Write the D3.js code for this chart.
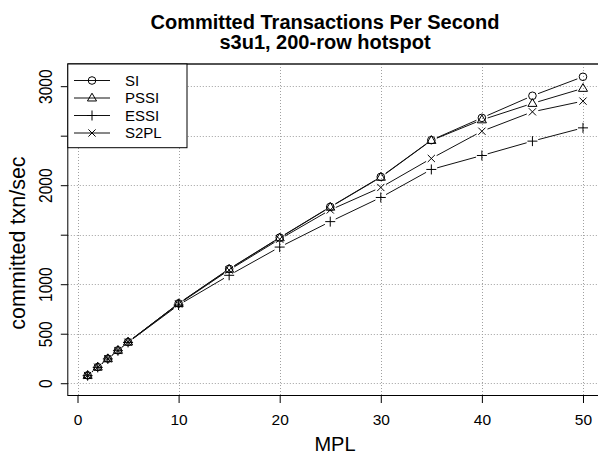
<!DOCTYPE html>
<html><head><meta charset="utf-8">
<script src="https://cdn.jsdelivr.net/npm/d3@7"></script>
<style>body{margin:0;background:#fff}svg{display:block}text{font-family:"Liberation Sans",Arial,Helvetica,sans-serif}</style>
</head><body>
<svg id="c" width="598" height="458"></svg>
<script>
const mpl = [1,2,3,4,5,10,15,20,25,30,35,40,45,50];
const si   = [79,163,248,332,416,806,1155,1471,1781,2084,2455,2680,2903,3095];
const pssi = [79,163,248,332,416,804,1151,1468,1778,2080,2452,2660,2826,2978];
const essi = [76,160,245,328,412,790,1090,1375,1632,1876,2159,2300,2445,2579];
const s2pl = [78,162,247,330,414,800,1143,1455,1750,1977,2270,2545,2741,2849];
const seriesNames = ["SI","PSSI","ESSI","S2PL"];
const seriesShapes = ["circle","triangle","plus","cross"];
const xTicks = [0,10,20,30,40,50];
const yTicks = [0,500,1000,1500,2000,2500,3000];
const yTickLabels = ["0","500","1000","","2000","","3000"];
const title1 = "Committed Transactions Per Second";
const title2 = "s3u1, 200-row hotspot";
const xTitle = "MPL";
const yTitle = "committed txn/sec";

const svg = d3.select("#c");
const L = 67.8, R = 602.8, T = 64, B = 395.5;
const x = d3.scaleLinear().domain([-0.96, 51.96]).range([L, R]);
const y = d3.scaleLinear().domain([-124, 3224]).range([B, T]);

// grid
const g = svg.append("g");
g.selectAll(".gx").data(xTicks).enter().append("line")
  .attr("x1", d => Math.round(x(d))+0.5).attr("x2", d => Math.round(x(d))+0.5)
  .attr("y1", T).attr("y2", B)
  .attr("stroke", "#a0a0a0").attr("stroke-dasharray", "1,2");
g.selectAll(".gy").data(yTicks).enter().append("line")
  .attr("y1", d => Math.round(y(d))+0.5).attr("y2", d => Math.round(y(d))+0.5)
  .attr("x1", L).attr("x2", R)
  .attr("stroke", "#a0a0a0").attr("stroke-dasharray", "1,2");

// axes
const xAxis = d3.axisBottom(x).tickValues(xTicks).tickSize(7.5).tickPadding(11).tickFormat(d3.format("d"));
const xg = svg.append("g").attr("transform", `translate(0,${B})`).call(xAxis);
xg.select(".domain").remove();
xg.selectAll("text").attr("font-size", 15.5).attr("fill", "#000");
xg.selectAll("line").attr("stroke", "#000");

const yAxis = d3.axisLeft(y).tickValues(yTicks).tickSize(7).tickFormat((d,i) => yTickLabels[i]);
const yg = svg.append("g").attr("transform", `translate(${L},0)`).call(yAxis);
yg.select(".domain").remove();
yg.selectAll("line").attr("stroke", "#000");
yg.selectAll("text").attr("font-size", 15.5).attr("fill", "#000")
  .attr("x", null).attr("dy", null)
  .attr("text-anchor", "middle")
  .attr("transform", "translate(-16,0) rotate(-90) scale(1,1.15)");

// series
const series = [si, pssi, essi, s2pl];
const gap = 6;
function drawMarker(sel, shape, cx, cy) {
  if (shape === "circle") {
    sel.append("circle").attr("cx", cx).attr("cy", cy).attr("r", 3.8)
      .attr("fill", "none").attr("stroke", "#000");
  } else if (shape === "triangle") {
    const s = 4.8;
    sel.append("path").attr("d", `M${cx},${cy - s} L${cx + s*0.95},${cy + s*0.62} L${cx - s*0.95},${cy + s*0.62} Z`)
      .attr("fill", "none").attr("stroke", "#000");
  } else if (shape === "plus") {
    const s = 5;
    sel.append("path").attr("d", `M${cx - s},${cy} H${cx + s} M${cx},${cy - s} V${cy + s}`)
      .attr("fill", "none").attr("stroke", "#000");
  } else {
    const s = 3.6;
    sel.append("path").attr("d", `M${cx - s},${cy - s} L${cx + s},${cy + s} M${cx - s},${cy + s} L${cx + s},${cy - s}`)
      .attr("fill", "none").attr("stroke", "#000");
  }
}
series.forEach((vals, k) => {
  const sg = svg.append("g");
  const pts = mpl.map((m, i) => [x(m), y(vals[i])]);
  for (let i = 0; i < pts.length - 1; i++) {
    const [x1, y1] = pts[i], [x2, y2] = pts[i+1];
    const dx = x2 - x1, dy = y2 - y1, len = Math.hypot(dx, dy);
    if (len <= 2*gap) continue;
    const ux = dx/len, uy = dy/len;
    sg.append("line")
      .attr("x1", x1 + ux*gap).attr("y1", y1 + uy*gap)
      .attr("x2", x2 - ux*gap).attr("y2", y2 - uy*gap)
      .attr("stroke", "#111").attr("stroke-width", 1);
  }
  pts.forEach(p => drawMarker(sg, seriesShapes[k], p[0], p[1]));
});

// box
svg.append("rect").attr("x", L).attr("y", T).attr("width", R - L).attr("height", B - T)
  .attr("fill", "none").attr("stroke", "#000");
svg.append("line").attr("x1", L).attr("x2", R).attr("y1", T).attr("y2", T)
  .attr("stroke", "#444").attr("stroke-width", 1.6);

// legend
const lg = svg.append("g");
lg.append("rect").attr("x", L).attr("y", T).attr("width", 187 - L).attr("height", 147.7 - T)
  .attr("fill", "#fff").attr("stroke", "#000");
const legY = d3.scaleLinear().domain([0, 3]).range([80.5, 133]);
seriesNames.forEach((n, k) => {
  const yy = legY(k);
  lg.append("line").attr("x1", 74).attr("x2", 110).attr("y1", yy).attr("y2", yy)
    .attr("stroke", "#111");
  drawMarker(lg, seriesShapes[k], 92, yy);
  lg.append("text").attr("x", 125).attr("y", yy + 5.4).attr("font-size", 15).text(n);
});

// titles
svg.append("text").attr("x", 325).attr("y", 29).attr("text-anchor", "middle")
  .attr("font-size", 20).attr("font-weight", "bold").text(title1);
svg.append("text").attr("x", 325).attr("y", 49).attr("text-anchor", "middle")
  .attr("font-size", 20).attr("font-weight", "bold").text(title2);
svg.append("text").attr("x", 335).attr("y", 451).attr("text-anchor", "middle")
  .attr("font-size", 20).text(xTitle);
svg.append("text").attr("transform", "translate(25,243) rotate(-90)").attr("text-anchor", "middle")
  .attr("font-size", 21.5).text(yTitle);
</script>
</body></html>
